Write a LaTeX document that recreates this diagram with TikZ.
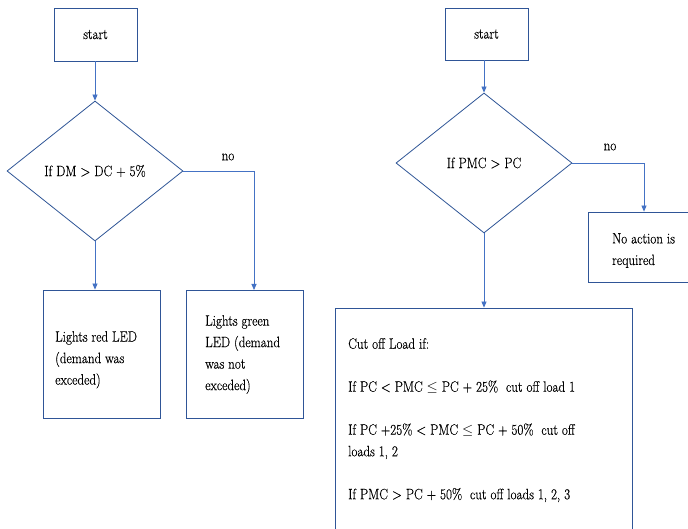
\documentclass[tikz,border=0pt]{standalone}
\usepackage{fontspec}
\newfontfamily\tnr{Latin Modern Roman}[FakeStretch=0.87, FakeBold=0.4]
\usetikzlibrary{shapes.geometric,arrows.meta}
\definecolor{lineblue}{HTML}{4472C4}
\definecolor{boxblue}{HTML}{2F5597}
\begin{document}
\begin{tikzpicture}[x=1pt,y=-1pt,
  box/.style={draw=boxblue, line width=0.8pt, rectangle, inner sep=0pt},
  dia/.style={draw=boxblue, line width=0.8pt, diamond, inner sep=0pt, font=\tnr\fontsize{15}{21}\selectfont},
  conn/.style={draw=lineblue, line width=0.8pt, -{Triangle[length=6pt,width=5pt]}},
  txt/.style={font=\tnr\fontsize{15}{21.5}\selectfont, inner sep=0pt, align=left}]
\useasboundingbox (0,0) rectangle (688,529);
\fill[white] (0,0) rectangle (688,529);
% left flow
\node[box, minimum width=83pt, minimum height=53pt, font=\tnr\fontsize{15}{21}\selectfont] (s1) at (95.5,34.5) {start};
\node[dia, minimum width=176pt, minimum height=140pt] (d1) at (95,171) {If DM > DC + 5\%};
\node[box, minimum width=117pt, minimum height=128pt] (r1) at (101.5,354) {};
\node[box, minimum width=117pt, minimum height=128pt] (g1) at (244.5,354) {};
\node[txt, anchor=north west] (r1t) at (55,331) {Lights red LED\\(demand was\\exceded)};
\node[txt, anchor=north west] (g1t) at (205,315) {Lights green\\LED (demand\\was not\\exceded)};
\coordinate (g1in) at (254,290);
\draw[conn] (d1.north |- s1.south) -- (d1.north);
\draw[conn] (d1.south) -- (d1.south |- r1.north);
\draw[conn] (d1.east) -- (d1.east -| g1in) -- (g1in);
\node[txt] (no1) at (228,157) {no};
% right flow
\node[box, minimum width=83pt, minimum height=52pt, font=\tnr\fontsize{15}{21}\selectfont] (s2) at (486.5,34) {start};
\node[dia, minimum width=176pt, minimum height=140pt] (d2) at (484,163) {If PMC > PC};
\node[box, minimum width=112pt, minimum height=70pt] (na) at (644,247) {};
\node[txt, anchor=north west] (nat) at (612,233) {No action is\\required};
\node[box, minimum width=297pt, minimum height=240pt] (bb) at (483.5,428) {};
\node[txt, anchor=north west] (bbt) at (348,338) {Cut off Load if:\\[21.5pt]
If PC < PMC $\leq$ PC + 25\%\ \ cut off load 1\\[21.5pt]
If PC +25\% < PMC $\leq$ PC + 50\%\ \ cut off\\loads 1, 2\\[21.5pt]
If PMC > PC + 50\%\ \ cut off loads 1, 2, 3};
\draw[conn] (d2.north |- s2.south) -- (d2.north);
\draw[conn] (d2.south) -- (d2.south |- bb.north);
\draw[conn] (d2.east) -| (na.north);
\node[txt] (no2) at (610,147) {no};
\end{tikzpicture}
\end{document}
